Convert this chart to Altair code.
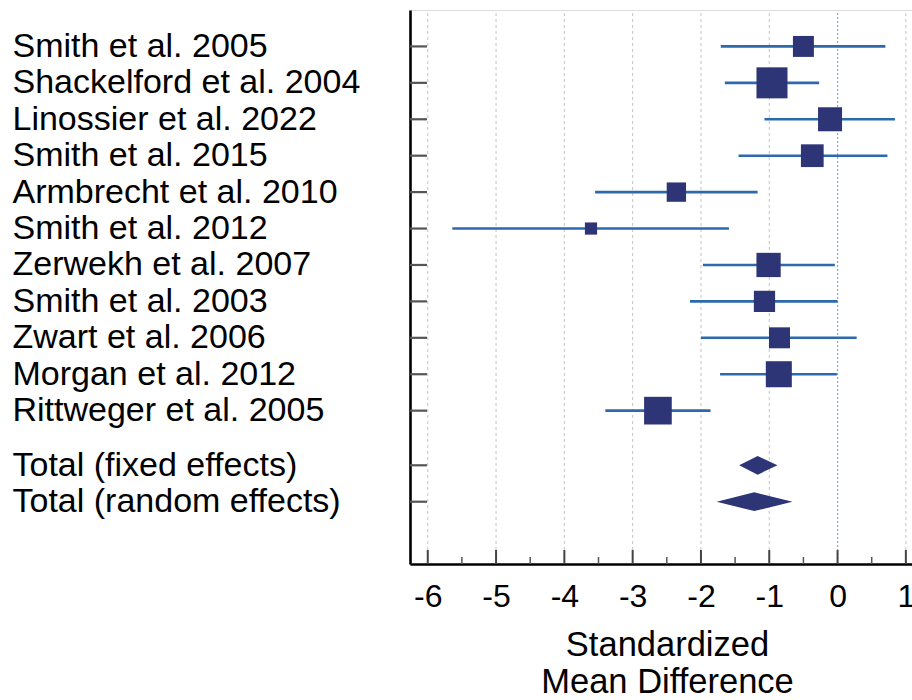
import altair as alt
import pandas as pd

# ---- data ----
studies = ["Smith et al. 2005", "Shackelford et al. 2004", "Linossier et al. 2022",
           "Smith et al. 2015", "Armbrecht et al. 2010", "Smith et al. 2012",
           "Zerwekh et al. 2007", "Smith et al. 2003", "Zwart et al. 2006",
           "Morgan et al. 2012", "Rittweger et al. 2005"]
smd = [-0.50, -0.96, -0.11, -0.37, -2.36, -3.61, -1.01, -1.07, -0.85, -0.86, -2.63]
ci_low = [-1.71, -1.65, -1.07, -1.45, -3.55, -5.64, -1.97, -2.16, -2.00, -1.72, -3.40]
ci_high = [0.70, -0.27, 0.84, 0.73, -1.17, -1.59, -0.04, 0.00, 0.28, -0.01, -1.86]
weight = [7.4, 16.2, 9.7, 8.7, 6.3, 2.5, 9.9, 7.6, 7.4, 11.4, 12.9]  # % weight

totals = ["Total (fixed effects)", "Total (random effects)"]
total_smd = [-1.17, -1.22]
total_low = [-1.44, -1.77]
total_high = [-0.88, -0.66]

x_ticks = [-6, -5, -4, -3, -2, -1, 0, 1]
x_minor = [-5.5, -4.5, -3.5, -2.5, -1.5, -0.5, 0.5]

# ---- tables ----
n = len(studies)
study_pos = [i + 1 for i in range(n)]
total_pos = [n + 1.5 + j for j in range(len(totals))]

df_st = pd.DataFrame({"name": studies, "pos": study_pos, "smd": smd,
                      "lo": ci_low, "hi": ci_high, "w": weight})
HH = 0.257  # diamond half height in row units (style)
dia_rows = []
for nm, p, c, lo, hi in zip(totals, total_pos, total_smd, total_low, total_high):
    dia_rows.append({"name": nm, "x": lo, "yt": p, "yb": p})
    dia_rows.append({"name": nm, "x": c, "yt": p - HH, "yb": p + HH})
    dia_rows.append({"name": nm, "x": hi, "yt": p, "yb": p})
df_dia = pd.DataFrame(dia_rows)

all_pos = study_pos + total_pos
all_names = studies + totals
df_pos = pd.DataFrame({"pos": all_pos})
df_grid = pd.DataFrame({"v": [t for t in x_ticks if t != 0]})
df_zero = pd.DataFrame({"v": [0]})
df_major = pd.DataFrame({"v": x_ticks})
df_minor = pd.DataFrame({"v": x_minor})

label_expr = " : ".join(f"datum.value == {p} ? '{nm}'" for p, nm in zip(all_pos, all_names)) + " : ''"

FONT = "Liberation Sans, Arial, Helvetica, sans-serif"
W, H = 502, 554
xs = alt.Scale(domain=[-6.26, 1.09], nice=False, zero=False)
ys = alt.Scale(domain=[0, 15.21], nice=False, zero=False, reverse=True)

x_axis = alt.Axis(values=x_ticks, labelExpr="'' + datum.value", ticks=False, grid=False,
                  domainColor="black", domainWidth=2.6, labelFontSize=32, labelFont=FONT,
                  labelColor="black", labelPadding=17, labelFlush=False, labelOverlap=False,
                  title=["Standardized", "Mean Difference"], titleFontSize=34.5, titleFont=FONT,
                  titleFontWeight="normal", titleColor="black", titleLineHeight=37,
                  titleX=257, titleY=64, titleBaseline="top", titleAlign="center")
y_axis = alt.Axis(values=all_pos, labelExpr=label_expr, ticks=False, grid=False,
                  domainColor="black", domainWidth=2.6, labelFontSize=34, labelFont=FONT,
                  labelColor="black", labelAlign="left", labelBaseline="middle",
                  labelPadding=398, labelLimit=400, labelOverlap=False, title=None)

X = lambda f: alt.X(f, type="quantitative", scale=xs, axis=x_axis)
Y = lambda f, **kw: alt.Y(f, type="quantitative", scale=ys, axis=y_axis, **kw)

grid = alt.Chart(df_grid).mark_rule(color="#c4c4c4", strokeWidth=1, strokeDash=[3, 3]).encode(
    x=X("v"), y=alt.value(3), y2=alt.value(H))
zero = alt.Chart(df_zero).mark_rule(color="#7fa7d8", strokeWidth=1.2, strokeDash=[2, 2]).encode(
    x=X("v"), y=alt.value(3), y2=alt.value(H))
xmaj = alt.Chart(df_major).mark_rule(color="#444444", strokeWidth=2).encode(
    x=X("v"), y=alt.value(H), y2=alt.value(H - 14))
xmin = alt.Chart(df_minor).mark_rule(color="#555555", strokeWidth=1.5).encode(
    x=X("v"), y=alt.value(H), y2=alt.value(H - 7))
yt = alt.Chart(df_pos).mark_rule(color="#555555", strokeWidth=2.2).encode(
    y=Y("pos"), x=alt.value(0), x2=alt.value(17))
ci = alt.Chart(df_st).mark_rule(color="#2c6aad", strokeWidth=2.6).encode(
    x=X("lo"), x2="hi", y=Y("pos"))
sq = alt.Chart(df_st).mark_square(color="#2e3577", opacity=1, filled=True).encode(
    x=X("smd"), y=Y("pos"),
    size=alt.Size("w:Q", scale=alt.Scale(domain=[0, 100], range=[0, 5944]), legend=None))
dia = alt.Chart(df_dia).mark_area(color="#2e3577", orient="vertical", opacity=1).encode(
    x=X("x"), y=Y("yt", stack=None), y2="yb", detail="name:N")

chart = alt.layer(grid, zero, xmaj, xmin, yt, ci, sq, dia).properties(
    width=W, height=H,
    autosize=alt.AutoSizeParams(type="none"),
    padding={"left": 410, "top": 10, "right": 0, "bottom": 700 - 10 - H},
).configure_view(strokeWidth=0).configure(background="white")

chart.save("out.html", embed_options={"renderer": "svg", "actions": False})
